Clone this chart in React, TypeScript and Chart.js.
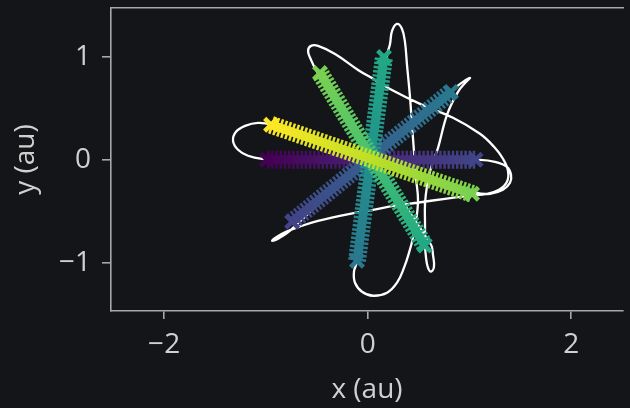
import { useEffect, useRef } from 'react';
import { Chart, registerables } from 'chart.js';

Chart.register(...registerables);

// ---- axes ----
const xTickValues = [-2, 0, 2];
const yTickValues = [-1, 0, 1];
const xLimits = [-2.522, 2.508];
const yLimits = [-1.465, 1.471];
const xLabel = 'x (au)';
const yLabel = 'y (au)';

// ---- rods of "x" markers (end points), earliest -> latest colour ----
const rodStartX = [-0.99, -0.743, -0.105, 0.56, 1.025];
const rodStartY = [0.0, -0.6, -0.978, -0.83, -0.329];
const rodEndX = [1.06, 0.818, 0.16, -0.469, -0.95];
const rodEndY = [0.0, 0.658, 0.997, 0.842, 0.339];
const rodColourStart = [0.0, 0.2, 0.4, 0.6, 0.8];
const rodColourEnd = [0.2, 0.4, 0.6, 0.8, 1.0];

// ---- white orbit curve ----
const orbitX = [
  0.032, -0.37, -0.763, -1.038, -1.176, -1.274, -1.323, -1.294, -1.205, -1.078,
  -0.94, -0.469, 0.003, 0.514, 1.064, 1.201, 1.329, 1.398, 1.408, 1.368,
  1.25, 1.103, 0.612, 0.042, 0.032, 0.101, 0.19, 0.219, 0.239, 0.288,
  0.337, 0.366, 0.386, 0.416, 0.435, 0.455, 0.474, 0.494, 0.474, 0.445,
  0.406, 0.357, 0.288, 0.19, 0.052, -0.056, -0.125, -0.135, -0.105, 0.032,
  0.013, -0.508, -0.557, -0.586, -0.557, -0.488, -0.321, -0.095, 0.072, 0.219,
  0.514, 0.838, 1.103, 1.241, 1.329, 1.378, 1.368, 1.29, 1.172, 1.005,
  0.759, 0.484, 0.268, 0.052, -0.174, -0.488, -0.645, -0.803, -0.891, -0.94,
  -0.881, -0.763, 0.023, 0.858, 0.936, 1.005, 0.966, 0.887, 0.779, 0.691,
  0.622, 0.583, 0.563, 0.563, 0.563, 0.573, 0.592, 0.622, 0.651, 0.641,
  0.622, 0.042,
];
const orbitY = [
  0.0, 0.0, 0.0, 0.01, 0.039, 0.097, 0.184, 0.271, 0.329, 0.358,
  0.339, 0.184, 0.029, -0.145, -0.319, -0.329, -0.29, -0.223, -0.145, -0.068,
  -0.019, 0.0, 0.0, 0.0, 0.048, 0.503, 1.016, 1.123, 1.249, 1.317,
  1.268, 1.142, 0.92, 0.6, 0.339, 0.077, -0.174, -0.387, -0.6, -0.755,
  -0.9, -1.045, -1.191, -1.288, -1.317, -1.278, -1.191, -1.084, -0.987, -0.019,
  0.029, 0.871, 0.968, 1.055, 1.104, 1.104, 1.026, 0.871, 0.774, 0.687,
  0.542, 0.407, 0.252, 0.126, 0.01, -0.106, -0.213, -0.29, -0.329, -0.348,
  -0.378, -0.416, -0.445, -0.484, -0.523, -0.591, -0.639, -0.697, -0.745, -0.784,
  -0.765, -0.687, 0.048, 0.697, 0.755, 0.794, 0.755, 0.658, 0.436, 0.116,
  -0.077, -0.252, -0.426, -0.629, -0.823, -0.949, -1.045, -1.084, -1.036, -0.92,
  -0.823, 0.019,
];

// ---- styles ----
const viridisStops = [
  '#440154', '#482475', '#414487', '#355f8d', '#2a788e', '#21918c',
  '#22a884', '#44bf70', '#7ad151', '#bddf26', '#fde725',
];
const BG = '#141518';
const TEXT = '#d0d0d0';
const SPINE = '#a8a8a8';
const FONT = "'Open Sans', 'Noto Sans', sans-serif";

function hexToRgb(h: string) {
  const n = parseInt(h.slice(1), 16);
  return [(n >> 16) & 255, (n >> 8) & 255, n & 255];
}
function viridisAt(t: number) {
  const s = viridisStops;
  const p = Math.min(Math.max(t, 0), 1) * (s.length - 1);
  const i = Math.min(Math.floor(p), s.length - 2);
  const f = p - i;
  const a = hexToRgb(s[i]);
  const b = hexToRgb(s[i + 1]);
  const c = a.map((v, k) => Math.round(v + (b[k] - v) * f));
  return `rgb(${c[0]},${c[1]},${c[2]})`;
}
function rodGradient(chart: any, i: number) {
  const xs = chart.scales && chart.scales.x;
  const ys = chart.scales && chart.scales.y;
  if (!xs || !ys || !chart.chartArea) return viridisAt(rodColourStart[i]);
  const x0 = xs.getPixelForValue(rodStartX[i]);
  const y0 = ys.getPixelForValue(rodStartY[i]);
  const x1 = xs.getPixelForValue(rodEndX[i]);
  const y1 = ys.getPixelForValue(rodEndY[i]);
  if (![x0, y0, x1, y1].every(Number.isFinite)) return viridisAt(rodColourStart[i]);
  const g = chart.ctx.createLinearGradient(x0, y0, x1, y1);
  const n = 10;
  for (let k = 0; k <= n; k++) {
    const f = k / n;
    g.addColorStop(f, viridisAt(rodColourStart[i] + (rodColourEnd[i] - rodColourStart[i]) * f));
  }
  return g;
}
const fmt = (v: number) => (v < 0 ? '\u2212' + Math.abs(v) : String(v));

export default function App() {
  const ref = useRef<HTMLCanvasElement>(null);

  useEffect(() => {
    document.body.style.margin = '0';
    document.body.style.background = BG;
    const canvas = ref.current;
    if (!canvas) return;

    const orbitData = orbitX.map((x, i) => ({ x, y: orbitY[i] }));
    const rodDatasets: any[] = [];
    rodStartX.forEach((_, i) => {
      const pts = [
        { x: rodStartX[i], y: rodStartY[i] },
        { x: rodEndX[i], y: rodEndY[i] },
      ];
      const endCols = [viridisAt(rodColourStart[i]), viridisAt(rodColourEnd[i])];
      rodDatasets.push({
        label: 'rod' + i + 'outer',
        data: pts,
        xAxisID: 'x',
        yAxisID: 'y',
        borderColor: (ctx: any) => rodGradient(ctx.chart, i),
        borderWidth: 18,
        borderDash: [2.5, 1.7],
        borderCapStyle: 'butt',
        pointRadius: 0,
        tension: 0,
        order: 10 - 2 * i,
      });
      rodDatasets.push({
        label: 'rod' + i + 'inner',
        data: pts,
        xAxisID: 'x',
        yAxisID: 'y',
        borderColor: (ctx: any) => rodGradient(ctx.chart, i),
        borderWidth: 9,
        borderCapStyle: 'butt',
        pointStyle: 'crossRot',
        pointRadius: 9,
        pointBorderWidth: 4.5,
        pointBorderColor: endCols,
        pointBackgroundColor: endCols,
        tension: 0,
        order: 9 - 2 * i,
      });
    });

    const tickFont = { family: FONT, size: 28 };
    const chart = new Chart(canvas, {
      type: 'line',
      data: {
        datasets: [
          {
            label: 'orbit',
            data: orbitData,
            xAxisID: 'x',
            yAxisID: 'y',
            borderColor: '#ffffff',
            borderWidth: 2.3,
            pointRadius: 0,
            tension: 0.4,
            order: 20,
          },
          ...rodDatasets,
        ],
      },
      options: {
        responsive: false,
        animation: false,
        devicePixelRatio: 1,
        events: [],
        layout: { autoPadding: false, padding: { left: 0, right: 7, top: 0, bottom: 0 } },
        plugins: {
          legend: { display: false },
          tooltip: { enabled: false },
          title: { display: false },
        },
        scales: {
          x: {
            type: 'linear',
            position: 'bottom',
            min: xLimits[0],
            max: xLimits[1],
            afterBuildTicks: (s: any) => {
              s.ticks = xTickValues.map((v) => ({ value: v }));
            },
            afterFit: (s: any) => {
              s.height = 97;
              s.paddingLeft = 0;
              s.paddingRight = 0;
            },
            ticks: {
              color: TEXT,
              font: tickFont,
              padding: 9,
              maxRotation: 0,
              callback: (v: any) => fmt(Number(v)),
            },
            grid: { drawOnChartArea: false, drawTicks: true, tickLength: 8, color: SPINE, lineWidth: 1.6 },
            border: { display: true, color: SPINE, width: 1.6 },
            title: { display: true, text: xLabel, color: TEXT, font: tickFont, padding: { top: 0, bottom: 1 } },
          },
          xTop: {
            type: 'linear',
            position: 'top',
            min: xLimits[0],
            max: xLimits[1],
            afterFit: (s: any) => {
              s.height = 8;
              s.paddingLeft = 0;
              s.paddingRight = 0;
            },
            ticks: { display: false },
            grid: { display: false, drawTicks: false },
            border: { display: true, color: SPINE, width: 1.6 },
          },
          y: {
            type: 'linear',
            position: 'left',
            min: yLimits[0],
            max: yLimits[1],
            afterBuildTicks: (s: any) => {
              s.ticks = yTickValues.map((v) => ({ value: v }));
            },
            afterFit: (s: any) => {
              s.width = 111;
              s.paddingTop = 0;
              s.paddingBottom = 0;
            },
            ticks: {
              color: TEXT,
              font: tickFont,
              padding: 11,
              callback: (v: any) => fmt(Number(v)),
            },
            grid: { drawOnChartArea: false, drawTicks: true, tickLength: 9, color: SPINE, lineWidth: 1.6 },
            border: { display: true, color: SPINE, width: 1.6 },
            title: { display: true, text: yLabel, color: TEXT, font: tickFont, padding: { top: 9, bottom: 0 } },
          },
        },
      } as any,
    });
    return () => chart.destroy();
  }, []);

  return (
    <div style={{ position: 'fixed', left: 0, top: 0, width: 630, height: 408, background: BG, overflow: 'hidden' }}>
      <canvas ref={ref} width={630} height={408} style={{ width: 630, height: 408, display: 'block' }} />
    </div>
  );
}
